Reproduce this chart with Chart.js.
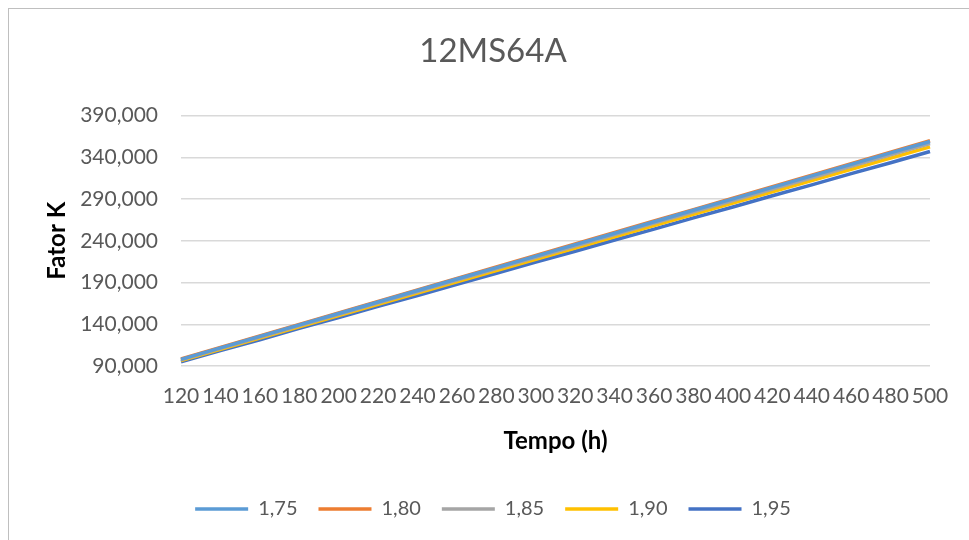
<!DOCTYPE html>
<html>
<head>
<meta charset="utf-8">
<script src="https://cdn.jsdelivr.net/npm/chart.js@4"></script>
<style>
  html, body { margin: 0; padding: 0; background: #fff; overflow: hidden; }
  #frame { position: absolute; left: 8px; top: 8px; width: 980px; height: 560px; border: 1px solid #BFBFBF; box-sizing: border-box; }
  #wrap { position: absolute; left: 0; top: 0; width: 969px; height: 540px; }
</style>
</head>
<body>
<div id="frame"></div>
<div id="wrap"><canvas id="chart"></canvas></div>
<script>
// horas (eixo X)
const tempos = [120, 140, 160, 180, 200, 220, 240, 260, 280, 300, 320, 340, 360, 380, 400, 420, 440, 460, 480, 500];

// Fator K por série
const k175 = [98000, 111700, 125500, 139200, 152900, 166700, 180400, 194200, 207900, 221600, 235400, 249100, 262800, 276600, 290300, 304000, 317800, 331500, 345300, 359000];
const k180 = [98500, 112300, 126000, 139800, 153600, 167300, 181100, 194800, 208600, 222400, 236100, 249900, 263700, 277400, 291200, 304900, 318700, 332500, 346200, 360000];
const k185 = [97500, 111100, 124800, 138400, 152000, 165700, 179300, 192900, 206600, 220200, 233800, 247500, 261100, 274700, 288300, 302000, 315600, 329200, 342900, 356500];
const k190 = [96500, 110000, 123400, 136900, 150400, 163900, 177300, 190800, 204300, 217800, 231200, 244700, 258200, 271700, 285100, 298600, 312100, 325600, 339000, 352500];
const k195 = [95000, 108500, 121500, 135000, 148000, 161500, 174500, 188000, 201000, 214500, 227500, 241000, 254000, 267500, 280500, 294000, 307000, 320500, 333500, 347000];

const nomes = ['1,75', '1,80', '1,85', '1,90', '1,95'];
const series = [k175, k180, k185, k190, k195];
const cores = ['#5B9BD5', '#ED7D31', '#A5A5A5', '#FFC000', '#4472C4'];

const yTicks = { min: 90000, max: 390000, step: 50000 };

const FONT = 'Lato, "Open Sans", sans-serif';
const GREY = '#595959';

const datasets = series.map((data, i) => ({
  label: nomes[i],
  data,
  borderColor: cores[i],
  backgroundColor: cores[i],
  borderWidth: 3.5,
  pointRadius: 0,
  tension: 0,
  fill: false
}));

new Chart(document.getElementById('chart'), {
  type: 'line',
  data: { labels: tempos, datasets },
  options: {
    responsive: true,
    maintainAspectRatio: false,
    animation: false,
    layout: { padding: { left: 56, right: 39, top: 0, bottom: 11 } },
    plugins: {
      title: {
        display: true,
        text: '12MS64A',
        color: GREY,
        font: { family: FONT, size: 33, weight: 'normal' },
        padding: { top: 32, bottom: 44 }
      },
      legend: {
        position: 'bottom',
        labels: {
          color: GREY,
          font: { family: FONT, size: 20 },
          usePointStyle: true,
          pointStyle: 'line',
          pointStyleWidth: 53,
          boxHeight: 3,
          padding: 21
        }
      },
      tooltip: { enabled: false }
    },
    scales: {
      x: {
        offset: false,
        afterFit: s => { s.height = 112; },
        grid: { display: false, drawTicks: false },
        border: { display: false },
        ticks: {
          color: GREY,
          font: { family: FONT, size: 21 },
          maxRotation: 0,
          autoSkip: false,
          padding: 18
        },
        title: {
          display: true,
          text: 'Tempo (h)',
          color: '#000',
          font: { family: FONT, size: 24, weight: 'bold' },
          padding: { top: 0, bottom: 22 }
        }
      },
      y: {
        min: yTicks.min,
        max: yTicks.max,
        afterFit: s => { s.width = 125; },
        grid: { color: '#D9D9D9', lineWidth: 1.5, drawTicks: false },
        border: { display: false },
        ticks: {
          stepSize: yTicks.step,
          color: GREY,
          font: { family: FONT, size: 21 },
          padding: 23,
          callback: v => v.toLocaleString('en-US')
        },
        title: {
          display: true,
          text: 'Fator K',
          color: '#000',
          font: { family: FONT, size: 24, weight: 'bold' },
          padding: { top: -13, bottom: 0 }
        }
      }
    }
  }
});
</script>
</body>
</html>
